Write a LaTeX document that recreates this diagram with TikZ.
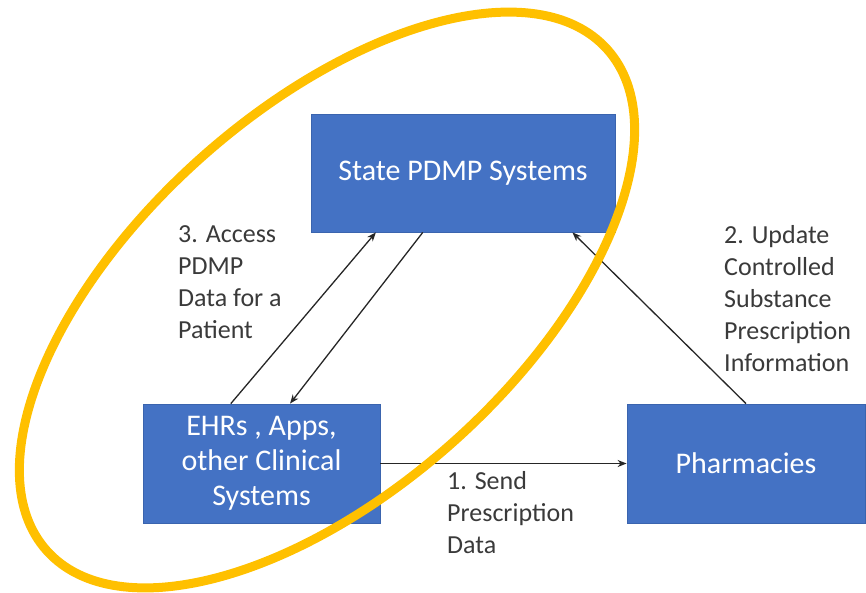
\documentclass[tikz,border=0pt]{standalone}
\usepackage{fontspec}
\setmainfont{Carlito}
\usetikzlibrary{arrows.meta,calc}
\definecolor{boxblue}{HTML}{4472C4}
\definecolor{boxedge}{HTML}{3A64AE}
\definecolor{labelgray}{HTML}{3A3A3A}
\definecolor{ringyellow}{HTML}{FFC000}
\tikzset{
  sysbox/.style={fill=boxblue,draw=boxedge,line width=0.8pt,inner sep=0pt,
    text=white,align=center,font=\fontsize{30}{35}\selectfont},
  steplabel/.style={text=labelgray,align=left,inner sep=0pt,anchor=north west,
    font=\fontsize{26}{32}\selectfont},
  flow/.style={draw=black!85,line width=1.3pt,-{Stealth[length=9pt,width=7pt]}},
  ring/.style={draw=ringyellow,line width=9pt}
}
\begin{document}
\begin{tikzpicture}[x=1pt,y=-1pt]
\useasboundingbox (0,0) rectangle (866,592);
\node[sysbox,minimum width=304pt,minimum height=118pt] (pdmp) at (463,173) {State PDMP Systems};
\node[sysbox,minimum width=237pt,minimum height=119pt] (ehr) at (261.5,463.5) {EHRs , Apps,\\other Clinical\\Systems};
\node[sysbox,minimum width=238pt,minimum height=119pt] (ph) at (746,463.5) {Pharmacies};
\coordinate (a1s) at ($(ehr.north west)!0.371!(ehr.north east)$);
\coordinate (a1e) at ($(pdmp.south west)!0.214!(pdmp.south east)$);
\coordinate (a2s) at ($(pdmp.south west)!0.368!(pdmp.south east)$);
\coordinate (a2e) at ($(ehr.north west)!0.62!(ehr.north east)$);
\coordinate (a4e) at ($(pdmp.south west)!0.859!(pdmp.south east)$);
\draw[flow] (a1s) -- (a1e);
\draw[flow] (a2s) -- (a2e);
\draw[flow] (ehr.east) -- (ph.west);
\draw[flow] (ph.north) -- (a4e);
\node[steplabel] (l3) at (178,225) {3. Access\\PDMP\\Data for a\\Patient};
\node[steplabel] (l2) at (724,225) {2. Update\\Controlled\\Substance\\Prescription\\Information};
\node[steplabel] (l1) at (447,471) {1. Send\\Prescription\\Data};
\coordinate (ec) at (327,300);
\draw[ring,rotate around={41.8:(ec)}] (ec) ellipse [x radius=376pt,y radius=190pt];
\end{tikzpicture}
\end{document}
